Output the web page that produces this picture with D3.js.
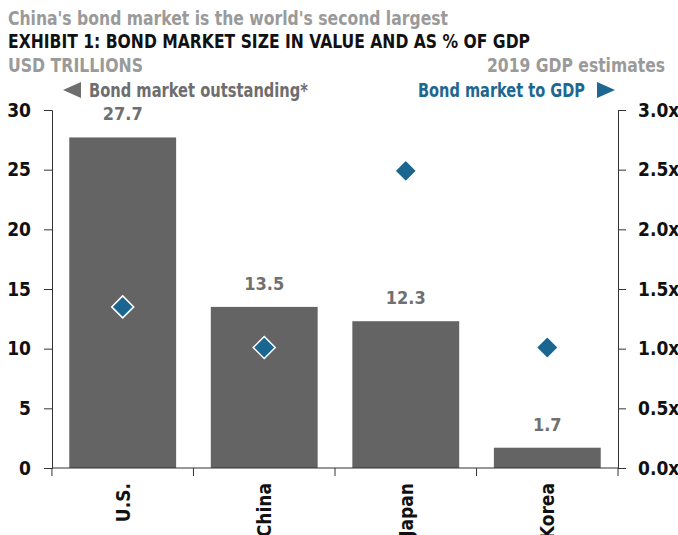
<!DOCTYPE html>
<html>
<head>
<meta charset="utf-8">
<script src="https://cdn.jsdelivr.net/npm/d3@7"></script>
<style>
  body { margin: 0; background: #fff; }
  text { font-family: "Liberation Sans Narrow", "DejaVu Sans Condensed", sans-serif; font-weight: bold; }
</style>
</head>
<body>
<div id="chart"></div>
<script>
// Data
var countries = ["U.S.", "China", "Japan", "Korea"];
var bondOutstanding = [27.7, 13.5, 12.3, 1.7];   // USD trillions
var bondToGdp = [1.35, 1.01, 2.49, 1.01];         // x of GDP
var leftTicks = [0, 5, 10, 15, 20, 25, 30];
var rightTicks = [0, 0.5, 1.0, 1.5, 2.0, 2.5, 3.0];

var width = 678, height = 535;
var margin = { top: 110, right: 60, bottom: 67, left: 52 };

var svg = d3.select("#chart")
    .append("svg")
    .attr("width", width)
    .attr("height", height);

// Scales
var x = d3.scaleBand()
    .domain(countries)
    .range([margin.left, width - margin.right])
    .paddingInner(0.245)
    .paddingOuter(0.122);

var y = d3.scaleLinear()
    .domain([0, 30])
    .range([height - margin.bottom, margin.top]);

var y2 = d3.scaleLinear()
    .domain([0, 3])
    .range([height - margin.bottom, margin.top]);

// Titles
var grey = "#9a9a9a";
svg.append("text").attr("x", 8).attr("y", 25).attr("font-size", 20)
    .attr("fill", grey).attr("textLength", 440).attr("lengthAdjust", "spacingAndGlyphs")
    .text("China's bond market is the world's second largest");
svg.append("text").attr("x", 8).attr("y", 48).attr("font-size", 20)
    .attr("fill", "#111").attr("textLength", 522).attr("lengthAdjust", "spacingAndGlyphs")
    .text("EXHIBIT 1: BOND MARKET SIZE IN VALUE AND AS % OF GDP");
svg.append("text").attr("x", 8).attr("y", 72).attr("font-size", 20)
    .attr("fill", grey).attr("textLength", 135).attr("lengthAdjust", "spacingAndGlyphs")
    .text("USD TRILLIONS");
svg.append("text").attr("x", 487).attr("y", 72).attr("font-size", 20)
    .attr("fill", grey).attr("textLength", 178).attr("lengthAdjust", "spacingAndGlyphs")
    .text("2019 GDP estimates");

// Legends
svg.append("path").attr("d", "M63,90L81,82L81,98Z").attr("fill", "#6e6e6e");
svg.append("text").attr("x", 89).attr("y", 97).attr("font-size", 19)
    .attr("fill", "#6e6e6e").attr("textLength", 219).attr("lengthAdjust", "spacingAndGlyphs")
    .text("Bond market outstanding*");
svg.append("text").attr("x", 418).attr("y", 97).attr("font-size", 19)
    .attr("fill", "#1d6790").attr("textLength", 167).attr("lengthAdjust", "spacingAndGlyphs")
    .text("Bond market to GDP");
svg.append("path").attr("d", "M597,82L615,90L597,98Z").attr("fill", "#1d6790");

// Bars
svg.selectAll(".bar")
    .data(countries)
    .enter()
    .append("rect")
    .attr("class", "bar")
    .attr("x", function (d) { return x(d); })
    .attr("width", x.bandwidth())
    .attr("y", function (d, i) { return y(bondOutstanding[i]); })
    .attr("height", function (d, i) { return y(0) - y(bondOutstanding[i]); })
    .attr("fill", "#646464");

// Bar value labels
svg.selectAll(".val")
    .data(countries)
    .enter()
    .append("text")
    .attr("class", "val")
    .attr("x", function (d) { return x(d) + x.bandwidth() / 2; })
    .attr("y", function (d, i) { return y(bondOutstanding[i]) - 17; })
    .attr("text-anchor", "middle")
    .attr("font-size", 18)
    .attr("fill", "#707070")
    .text(function (d, i) { return bondOutstanding[i].toFixed(1); });

// Diamonds
svg.selectAll(".dia")
    .data(countries)
    .enter()
    .append("path")
    .attr("class", "dia")
    .attr("transform", function (d, i) {
        return "translate(" + (x(d) + x.bandwidth() / 2) + "," + y2(bondToGdp[i]) + ")";
    })
    .attr("d", "M0,-11L11,0L0,11L-11,0Z")
    .attr("fill", "#1b6690")
    .attr("stroke", "#fff")
    .attr("stroke-width", 1.5);

// Axes
var axisFont = function (g) {
    g.selectAll("text").attr("font-size", 19).attr("fill", "#111")
        .style("font-family", "'Liberation Sans Narrow', 'DejaVu Sans Condensed', sans-serif")
        .style("font-weight", "bold");
    g.selectAll("line, path").attr("stroke", "#333");
};

svg.append("g")
    .attr("transform", "translate(" + margin.left + ",0)")
    .call(d3.axisLeft(y).tickValues(leftTicks).tickSize(8).tickSizeOuter(8).tickPadding(13))
    .call(axisFont);

svg.append("g")
    .attr("transform", "translate(" + (width - margin.right) + ",0)")
    .call(d3.axisRight(y2).tickValues(rightTicks).tickSize(8).tickSizeOuter(8).tickPadding(12)
        .tickFormat(function (d) { return d.toFixed(1) + "x"; }))
    .call(axisFont);

// Bottom axis with ticks at band edges
var xAxis = svg.append("g")
    .attr("transform", "translate(0," + y(0) + ")");
xAxis.append("line")
    .attr("x1", margin.left).attr("x2", width - margin.right)
    .attr("stroke", "#333");
var edges = countries.map(function (d) { return x(d) - x.step() * x.paddingInner() / 2; });
edges.push(width - margin.right);
xAxis.selectAll(".edge")
    .data(edges)
    .enter()
    .append("line")
    .attr("x1", function (d) { return d; })
    .attr("x2", function (d) { return d; })
    .attr("y1", 0).attr("y2", 8)
    .attr("stroke", "#333");
xAxis.selectAll(".cat")
    .data(countries)
    .enter()
    .append("text")
    .attr("transform", function (d) {
        return "translate(" + (x(d) + x.bandwidth() / 2 + 7) + ",15) rotate(-90)";
    })
    .attr("text-anchor", "end")
    .attr("font-size", 19)
    .attr("fill", "#111")
    .text(function (d) { return d; });
</script>
</body>
</html>
